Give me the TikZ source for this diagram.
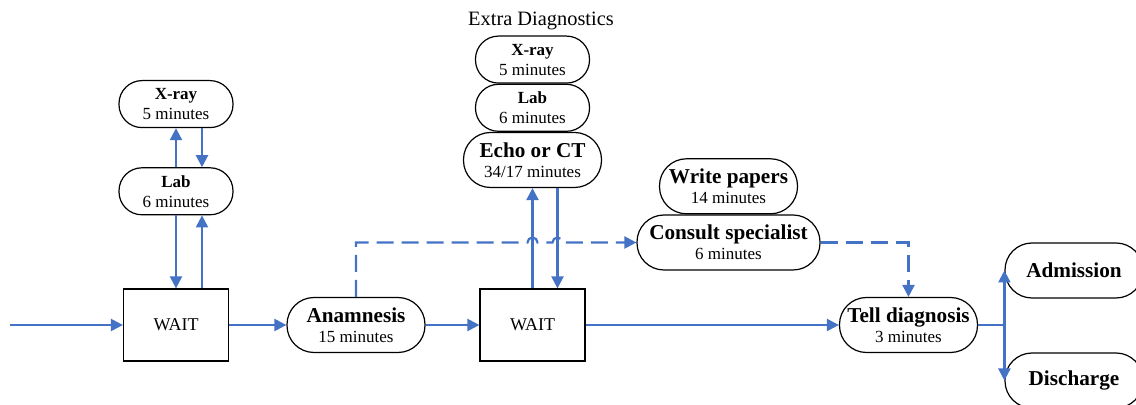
\documentclass[tikz,border=0pt]{standalone}
\usepackage{fontspec}
\setmainfont{Liberation Serif}
\usetikzlibrary{arrows.meta,positioning}

\definecolor{flowblue}{RGB}{68,114,196}
\newcommand{\tasktitle}{\fontsize{10.6}{10}\selectfont\bfseries}
\newcommand{\smalltitle}{\fontsize{8.5}{10}\selectfont\bfseries}

\begin{document}
\begin{tikzpicture}[x=0.5pt, y=-0.5pt,
    task/.style={rectangle, draw, line width=0.6pt, rounded corners=13.5pt, minimum width=69pt, minimum height=27.5pt, inner sep=0pt, align=center, font=\fontsize{8.5}{10}\selectfont},
    smalltask/.style={task, rounded corners=11.5pt, minimum width=57pt, minimum height=23.5pt},
    waitbox/.style={rectangle, draw, line width=0.6pt, minimum width=52.5pt, minimum height=36pt, font=\fontsize{9}{11}\selectfont},
    flow/.style={draw=flowblue, line width=1.1pt, -{Triangle[length=6pt,width=6pt]}},
    dashflow/.style={flow, dash pattern=on 8.5pt off 4pt}]
    \clip (0,0) rectangle (1136,405);

    % main row
    \coordinate (start) at (10,325);
    \node[waitbox] (wait1) at (176,325) {WAIT};
    \node[task] (anam) at (356,325) {{\tasktitle Anamnesis}\\15 minutes};
    \node[waitbox] (wait2) at (532.5,325) {WAIT};
    \node[task] (tell) at (908.5,325) {{\tasktitle Tell diagnosis}\\3 minutes};
    \node[task] (adm) at (1074,270.5) {\tasktitle Admission};
    \node[task] (dis) at (1074,380.5) {\tasktitle Discharge};

    % tests during the first wait
    \node[smalltask, above=36.5pt of wait1] (lab1) {{\smalltitle Lab}\\6 minutes};
    \node[smalltask, above=19.5pt of lab1] (xray1) {{\smalltitle X-ray}\\5 minutes};

    % extra diagnostics stack
    \node[task] (echo) at (532.5,160) {{\tasktitle Echo or CT}\\34/17 minutes};
    \node[smalltask, above=0pt of echo] (lab2) {{\smalltitle Lab}\\6 minutes};
    \node[smalltask, above=0pt of lab2] (xray2) {{\smalltitle X-ray}\\5 minutes};
    \node[font=\fontsize{10.2}{12}\selectfont] (extra) at (541,21) {Extra Diagnostics};

    % specialist
    \node[task, minimum width=91.5pt] (consult) at (728.5,242.5) {{\tasktitle Consult specialist}\\6 minutes};
    \node[task, above=0pt of consult] (papers) {{\tasktitle Write papers}\\14 minutes};

    \draw[flow] (start) -- (wait1);
    \draw[flow] (wait1) -- (anam);
    \draw[flow] (anam) -- (wait2);
    \draw[flow] (wait2) -- (tell);

    \draw[flow] (lab1.south) -- (lab1.south |- wait1.north);
    \draw[flow] ([xshift=13pt]wait1.north) -- ([xshift=13pt]lab1.south);
    \draw[flow] (lab1.north) -- (xray1.south);
    \draw[flow] ([xshift=13pt]xray1.south) -- ([xshift=13pt]lab1.north);

    \draw[flow] (wait2.north) -- (echo.south);
    \draw[flow] ([xshift=12.5pt]echo.south) -- ([xshift=12.5pt]wait2.north);

    % dashed route with line hops
    \coordinate (hop) at (wait2.north |- consult.west);
    \draw[dashflow] (anam.north) |- ([xshift=-2.5pt]hop) arc[start angle=180, end angle=0, radius=2.5pt]
        -- ([xshift=10pt]hop) arc[start angle=180, end angle=0, radius=2.5pt] -- (consult.west);
    \draw[dashflow] (consult.east) -| (tell.north);

    \draw[flow] (tell.east) -| (adm.west);
    \draw[flow] (tell.east) -| (dis.west);
\end{tikzpicture}
\end{document}
